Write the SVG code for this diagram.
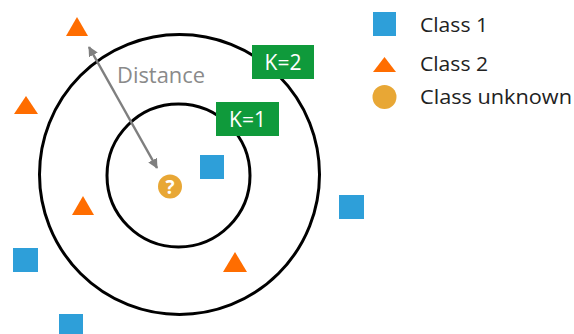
<svg xmlns="http://www.w3.org/2000/svg" width="574" height="334" viewBox="0 0 574 334">
<style>
.ring{fill:none;stroke:#000;stroke-width:3}
.sq{fill:#2e9fd9}
.tri{fill:#ff6d00}
.unk{fill:#e8a735}
.kbox{fill:#0f9a3b}
.ktxt{fill:#fff;font-family:"Open Sans","Liberation Sans",sans-serif;font-size:21px;text-anchor:middle}
.lbl{fill:#222;font-family:"Open Sans","Liberation Sans",sans-serif;font-size:20px}
.dist{fill:#8a8a8a;font-family:"Open Sans","Liberation Sans",sans-serif;font-size:21px}
</style>
<defs>
<marker id="ah" viewBox="0 0 10 10" refX="9" refY="5" markerWidth="4" markerHeight="4" orient="auto-start-reverse" markerUnits="strokeWidth">
<path d="M0,0 L10,5 L0,10 z" fill="#7f7f7f"/>
</marker>
</defs>
<rect width="574" height="334" fill="#fff"/>
<g id="rings">
<circle class="ring" cx="179.5" cy="174.5" r="140"/>
<circle class="ring" cx="178.5" cy="175.5" r="71.5"/>
</g>
<g id="connectors">
<line x1="89" y1="47" x2="157" y2="168" stroke="#7f7f7f" stroke-width="2.5" marker-start="url(#ah)" marker-end="url(#ah)"/>
</g>
<g id="distance-label"><text class="dist" x="117" y="83" textLength="88" lengthAdjust="spacingAndGlyphs">Distance</text></g>
<g id="k2"><rect class="kbox" x="252" y="45" width="62" height="34"/><text class="ktxt" x="283" y="69.5">K=2</text></g>
<g id="k1"><rect class="kbox" x="216" y="102" width="63" height="34"/><text class="ktxt" x="247.5" y="126.5">K=1</text></g>
<g id="unknown"><circle class="unk" cx="170" cy="186.5" r="12"/><text x="170" y="193.5" fill="#fff" font-family="'Open Sans','Liberation Sans',sans-serif" font-size="19" font-weight="bold" text-anchor="middle">?</text></g>
<g id="t1"><polygon class="tri" points="77,17 88,36 66,36"/></g>
<g id="t2"><polygon class="tri" points="26,96 38,114 14,114"/></g>
<g id="t3"><polygon class="tri" points="83,196 94,215 72,215"/></g>
<g id="t4"><polygon class="tri" points="235,252 247,272 223,272"/></g>
<g id="s1"><rect class="sq" x="200" y="155" width="24" height="24"/></g>
<g id="s2"><rect class="sq" x="13" y="248" width="25" height="24"/></g>
<g id="s3"><rect class="sq" x="59" y="314" width="24" height="24"/></g>
<g id="s4"><rect class="sq" x="339" y="195" width="25" height="24"/></g>
<g id="legend1"><rect class="sq" x="373" y="12" width="23" height="24"/><text class="lbl" x="420" y="32" textLength="68" lengthAdjust="spacingAndGlyphs">Class 1</text></g>
<g id="legend2"><polygon class="tri" points="384.5,57 396,72 373,72"/><text class="lbl" x="420" y="71" textLength="68" lengthAdjust="spacingAndGlyphs">Class 2</text></g>
<g id="legend3"><circle class="unk" cx="384.5" cy="97" r="12"/><text class="lbl" x="420" y="104" textLength="152" lengthAdjust="spacingAndGlyphs">Class unknown</text></g>
</svg>
